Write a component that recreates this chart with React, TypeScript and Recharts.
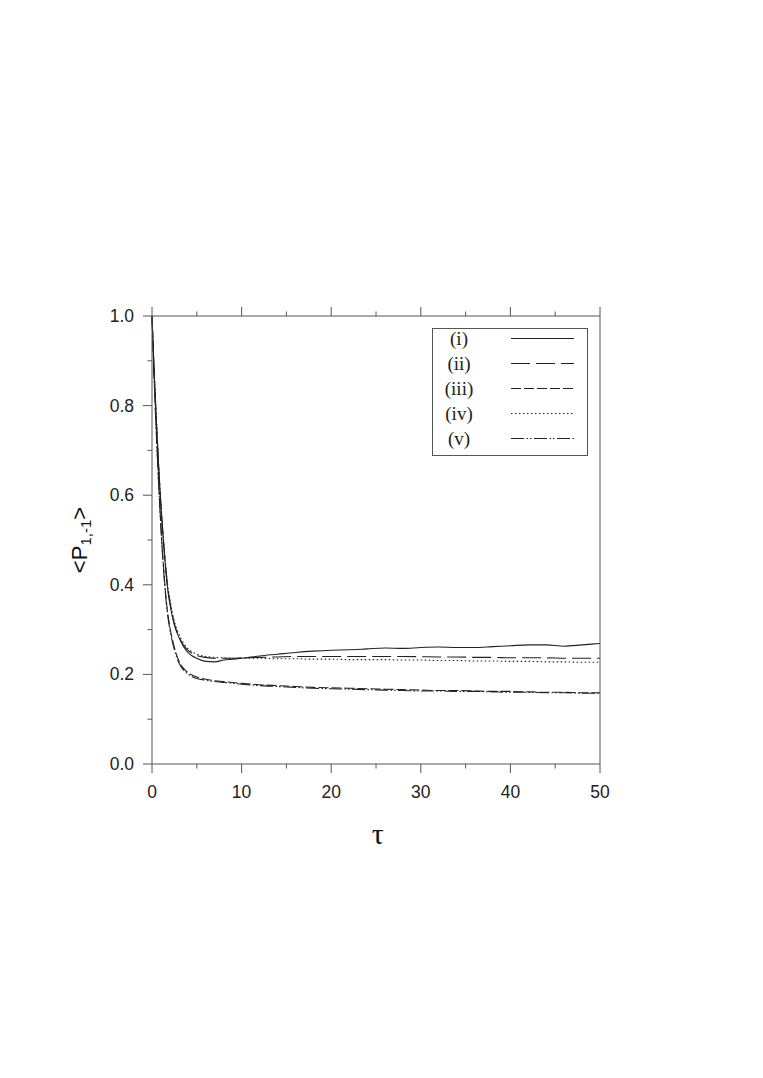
import React from "react";
import { LineChart, Line, XAxis, YAxis, Legend } from "recharts";

const tau = [0, 0.25, 0.5, 0.75, 1, 1.25, 1.5, 1.75, 2, 2.5, 3, 3.5, 4, 4.5, 5, 6, 7, 8, 9, 10, 12, 14, 16, 18, 20, 22, 24, 26, 28, 30, 32, 34, 36, 38, 40, 42, 44, 46, 48, 50];

const seriesI = [1.0, 0.87, 0.76, 0.66, 0.575, 0.505, 0.44, 0.39, 0.357, 0.31, 0.283, 0.263, 0.249, 0.241, 0.236, 0.229, 0.228, 0.232, 0.234, 0.236, 0.241, 0.245, 0.249, 0.252, 0.254, 0.255, 0.257, 0.259, 0.258, 0.26, 0.261, 0.26, 0.26, 0.262, 0.264, 0.266, 0.266, 0.263, 0.266, 0.269];
const seriesII = [1.0, 0.87, 0.76, 0.66, 0.575, 0.505, 0.445, 0.395, 0.362, 0.313, 0.285, 0.266, 0.254, 0.247, 0.242, 0.238, 0.236, 0.236, 0.236, 0.237, 0.238, 0.239, 0.24, 0.24, 0.24, 0.24, 0.24, 0.24, 0.24, 0.2395, 0.239, 0.239, 0.238, 0.238, 0.237, 0.237, 0.237, 0.236, 0.236, 0.236];
const seriesIII = [1.0, 0.86, 0.735, 0.625, 0.53, 0.45, 0.385, 0.337, 0.305, 0.26, 0.23, 0.214, 0.204, 0.198, 0.194, 0.189, 0.186, 0.184, 0.182, 0.18, 0.177, 0.175, 0.173, 0.171, 0.17, 0.169, 0.168, 0.167, 0.166, 0.165, 0.164, 0.164, 0.163, 0.162, 0.162, 0.161, 0.16, 0.16, 0.159, 0.159];
const seriesIV = [1.0, 0.875, 0.765, 0.665, 0.58, 0.51, 0.45, 0.4, 0.367, 0.318, 0.29, 0.271, 0.258, 0.25, 0.245, 0.24, 0.238, 0.237, 0.236, 0.236, 0.236, 0.235, 0.235, 0.234, 0.234, 0.233, 0.233, 0.233, 0.232, 0.232, 0.231, 0.231, 0.23, 0.23, 0.229, 0.229, 0.228, 0.228, 0.227, 0.227];
const seriesV = [1.0, 0.855, 0.73, 0.62, 0.525, 0.445, 0.38, 0.332, 0.3, 0.255, 0.226, 0.21, 0.201, 0.195, 0.191, 0.187, 0.184, 0.182, 0.18, 0.178, 0.175, 0.173, 0.171, 0.169, 0.168, 0.167, 0.166, 0.165, 0.164, 0.163, 0.163, 0.162, 0.162, 0.161, 0.16, 0.16, 0.159, 0.159, 0.158, 0.158];

const seriesLabels = ["(i)", "(ii)", "(iii)", "(iv)", "(v)"];
const seriesKeys = ["i", "ii", "iii", "iv", "v"];
const seriesValues = [seriesI, seriesII, seriesIII, seriesIV, seriesV];
const dashes = [undefined, "19 6", "10 3", "1.5 2.5", "13 2.5 1.5 2 1.5 2.5"];

const xTicks = [0, 5, 10, 15, 20, 25, 30, 35, 40, 45, 50];
const xLabelled = [0, 10, 20, 30, 40, 50];
const yTicks = [0, 0.1, 0.2, 0.3, 0.4, 0.5, 0.6, 0.7, 0.8, 0.9, 1.0];
const yLabelled = ["0.0", "0.2", "0.4", "0.6", "0.8", "1.0"];

const data = tau.map((t, i) => {
  const row: Record<string, number> = { tau: t };
  seriesKeys.forEach((k, j) => {
    row[k] = seriesValues[j][i];
  });
  return row;
});

const AXIS = "#555";
const LINE = "#222";
const SANS = "'Liberation Sans', Arial, Helvetica, sans-serif";
const SERIF = "'Liberation Serif', 'Times New Roman', serif";
const MAJOR = 9;
const MINOR = 4.5;

const isMajorX = (v: number) => xLabelled.includes(Math.round(v));
const isMajorY = (v: number) => yLabelled.includes(Number(v).toFixed(1));

const BottomTick = (p: any) => {
  const major = isMajorX(p.payload.value);
  const len = major ? MAJOR : MINOR;
  return (
    <g>
      <line x1={p.x} x2={p.x} y1={p.y} y2={p.y + len} stroke={AXIS} strokeWidth={1} />
      {major && (
        <text x={p.x} y={p.y + 34} textAnchor="middle" fontFamily={SANS} fontSize={17.5} fill="#222">
          {p.payload.value}
        </text>
      )}
    </g>
  );
};
const TopTick = (p: any) => {
  const len = isMajorX(p.payload.value) ? MAJOR : MINOR;
  return <line x1={p.x} x2={p.x} y1={p.y} y2={p.y - len} stroke={AXIS} strokeWidth={1} />;
};
const LeftTick = (p: any) => {
  const major = isMajorY(p.payload.value);
  const len = major ? MAJOR : MINOR;
  return (
    <g>
      <line x1={p.x} x2={p.x - len} y1={p.y} y2={p.y} stroke={AXIS} strokeWidth={1} />
      {major && (
        <text x={p.x - 18} y={p.y + 6} textAnchor="end" fontFamily={SANS} fontSize={17.5} fill="#222">
          {Number(p.payload.value).toFixed(1)}
        </text>
      )}
    </g>
  );
};
const RightTick = (p: any) => {
  const len = isMajorY(p.payload.value) ? MAJOR : MINOR;
  return <line x1={p.x} x2={p.x + len} y1={p.y} y2={p.y} stroke={AXIS} strokeWidth={1} />;
};

const renderLegend = () => (
  <svg width={156} height={128} style={{ display: "block" }}>
    <rect x={0.5} y={0.5} width={155} height={127} fill="#fff" stroke={AXIS} strokeWidth={1} />
    {seriesLabels.map((lab, i) => (
      <g key={lab}>
        <text x={27} y={10.5 + 25 * i} textAnchor="middle" dominantBaseline="central" fontFamily={SERIF} fontSize={19} fill="#222">
          {lab}
        </text>
        <line x1={79} x2={142} y1={10.5 + 25 * i} y2={10.5 + 25 * i} stroke={LINE} strokeWidth={1} strokeDasharray={dashes[i]} />
      </g>
    ))}
  </svg>
);

const yLabel = () => (
  <text transform="translate(71,532) rotate(-90)" textAnchor="middle" dominantBaseline="central" fontFamily={SANS} fontSize={22} fill="#111">
    {"<P"}
    <tspan fontSize={15} dy={6}>1,-1</tspan>
    <tspan dy={-6}>{">"}</tspan>
  </text>
);

const xLabel = () => (
  <text x={369.7} y={825} textAnchor="middle" dominantBaseline="central" fontFamily={SERIF} fontSize={30} fill="#111">
    τ
  </text>
);

export default function App() {
  return (
    <div style={{ position: "relative", width: 740, height: 1000 }}>
      <LineChart width={740} height={1000} data={data} margin={{ top: 298, right: 138, bottom: 214, left: 104 }}>
        <XAxis xAxisId="b" dataKey="tau" type="number" domain={[0, 50]} ticks={xTicks} orientation="bottom" height={30}
          tickSize={0} tickMargin={0} tickLine={false} stroke={AXIS} tick={BottomTick} interval={0} label={{ content: xLabel }} />
        <XAxis xAxisId="t" dataKey="tau" type="number" domain={[0, 50]} ticks={xTicks} orientation="top" height={10}
          tickSize={0} tickMargin={0} tickLine={false} stroke={AXIS} tick={TopTick} interval={0} />
        <YAxis yAxisId="l" type="number" domain={[0, 1]} ticks={yTicks} orientation="left" width={40}
          tickSize={0} tickMargin={0} tickLine={false} stroke={AXIS} tick={LeftTick} interval={0} label={{ content: yLabel }} />
        <YAxis yAxisId="r" type="number" domain={[0, 1]} ticks={yTicks} orientation="right" width={10}
          tickSize={0} tickMargin={0} tickLine={false} stroke={AXIS} tick={RightTick} interval={0} />
        {seriesKeys.map((k, i) => (
          <Line key={k} xAxisId="b" yAxisId="l" dataKey={k} name={seriesLabels[i]} type="monotone" dot={false}
            stroke={LINE} strokeWidth={1.1} strokeDasharray={dashes[i]} isAnimationActive={false} />
        ))}
        <Legend layout="vertical" align="center" verticalAlign="middle" content={renderLegend}
          wrapperStyle={{ position: "absolute", left: 424, top: 320, width: 156, height: 128 }} />
      </LineChart>
    </div>
  );
}
